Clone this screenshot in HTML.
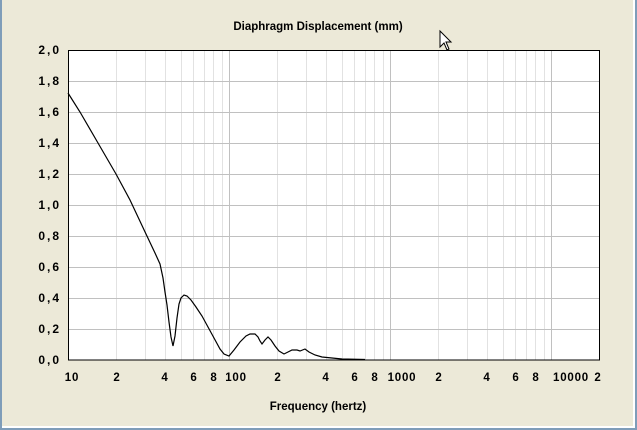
<!DOCTYPE html>
<html><head><meta charset="utf-8"><style>
html,body{margin:0;padding:0;background:#ECE9D8;}
svg{display:block;}
text{font-family:"Liberation Sans",sans-serif;font-weight:bold;fill:#000;}
</style></head><body>
<svg width="637" height="430" viewBox="0 0 637 430" xmlns="http://www.w3.org/2000/svg">
<rect x="0" y="0" width="637" height="430" fill="#ECE9D8"/>
<rect x="0" y="0" width="2" height="430" fill="#7F9DB9"/>
<rect x="635" y="0" width="2" height="430" fill="#7F9DB9"/>
<rect x="633" y="0" width="2" height="428" fill="#FFFFFF"/>
<rect x="0" y="428" width="637" height="2" fill="#7F9DB9"/>
<rect x="2" y="426" width="633" height="2" fill="#FFFFFF"/>
<text x="318" y="30" font-size="11.5" text-anchor="middle">Diaphragm Displacement (mm)</text>
<rect x="68" y="50" width="532" height="310" fill="#fff"/>
<g stroke="#E2E2E2" stroke-width="1" id="minor"></g>
<g stroke="#C0C0C0" stroke-width="1" id="major"></g>
<path fill="none" stroke="#000" stroke-width="1.2" d="M68,93 L80,112 L98,143 L116,174 L130,200 L146,234 L155,253 L160,264 L163,278 L165,292 L167,305 L169,322 L171,337 L173,346 L175,336 L177,318 L179,304 L181,298 L184,295 L187,296 L191,300 L196,307 L202,316 L208,327 L214,338 L220,349 L224,354 L229,356 L234,350 L240,342 L246,336 L250,334 L255,334 L258,337 L260,341 L262,344 L265,340 L268,337 L271,340 L275,346 L279,351 L284,354 L288,352 L292,350 L297,350 L300,351 L305,349 L309,352 L315,355 L322,357 L332,358 L342,359 L365,359.5"/>
<rect x="68.5" y="50.5" width="531" height="309.5" fill="none" stroke="#000" stroke-width="1"/>
<g font-size="12" text-anchor="end" letter-spacing="2">
<text x="61" y="54">2,0</text><text x="61" y="85">1,8</text><text x="61" y="116">1,6</text>
<text x="61" y="147">1,4</text><text x="61" y="178">1,2</text><text x="61" y="209">1,0</text>
<text x="61" y="240">0,8</text><text x="61" y="271">0,6</text><text x="61" y="302">0,4</text>
<text x="61" y="333">0,2</text><text x="61" y="364">0,0</text>
</g>
<g font-size="11.5" text-anchor="middle" letter-spacing="0.8">
<text x="72" y="381">10</text><text x="117" y="381">2</text><text x="165" y="381">4</text>
<text x="194" y="381">6</text><text x="214" y="381">8</text><text x="236" y="381">100</text>
<text x="278" y="381">2</text><text x="326" y="381">4</text><text x="355" y="381">6</text>
<text x="375" y="381">8</text><text x="402" y="381">1000</text><text x="439" y="381">2</text>
<text x="487" y="381">4</text><text x="516" y="381">6</text><text x="536" y="381">8</text>
<text x="571" y="381">10000</text><text x="598" y="381">2</text>
</g>
<text x="318" y="410" font-size="11.5" text-anchor="middle">Frequency (hertz)</text>
<path d="M440,31 L440,47 L444,43 L447,50 L449,49 L446,42 L451,42 Z" fill="#fff" stroke="#000" stroke-width="1"/>
</svg>
<script>
(function(){
var ns="http://www.w3.org/2000/svg";
var mi=document.getElementById("minor"),ma=document.getElementById("major");
function ln(g,x1,y1,x2,y2){var l=document.createElementNS(ns,"line");l.setAttribute("x1",x1);l.setAttribute("y1",y1);l.setAttribute("x2",x2);l.setAttribute("y2",y2);g.appendChild(l);}
for(var d=0;d<4;d++){for(var k=2;k<10;k++){var x=Math.round(68+161*(d+Math.log10(k)))+0.5;if(x<600)ln(mi,x,51,x,360);}}
[229.5,390.5,551.5].forEach(function(x){ln(ma,x,51,x,360);});
for(var i=1;i<10;i++){var y=Math.round(50+31*i)+0.5;ln(ma,69,y,600,y);}
})();
</script>
</body></html>
